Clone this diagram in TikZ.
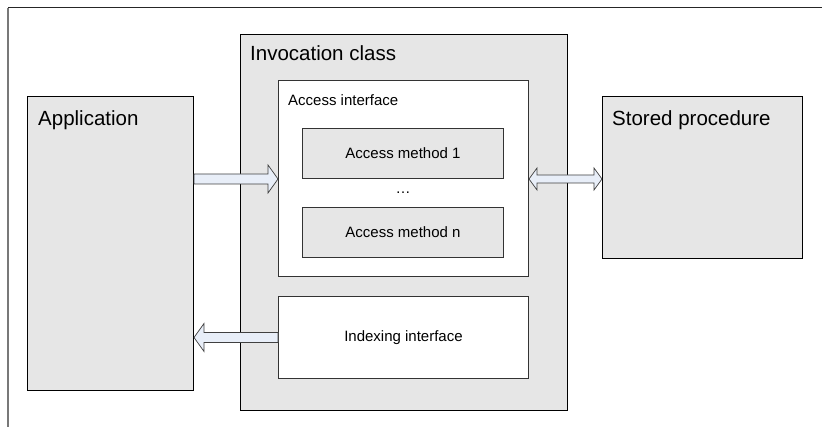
\documentclass[tikz,border=0pt]{standalone}
\usepackage{fontspec}
\setmainfont{Liberation Sans}
\usetikzlibrary{calc}
\definecolor{boxgray}{RGB}{230,230,230}
\definecolor{arrowblue}{RGB}{232,238,248}
\definecolor{framegray}{RGB}{120,120,120}
\begin{document}
\begin{tikzpicture}[x=1pt,y=-1pt,
  graybox/.style={draw=black,line width=1pt,fill=boxgray,inner sep=0,anchor=north west,font=\fontsize{15}{18}\selectfont},
  whitebox/.style={draw=black!80,line width=1pt,fill=white,inner sep=0,anchor=north west,font=\fontsize{15}{18}\selectfont},
  bigtxt/.style={font=\fontsize{20.5}{24}\selectfont,inner sep=0,anchor=base west},
  smalltxt/.style={font=\fontsize{15}{18}\selectfont,inner sep=0,anchor=base west},
  blockarrow/.style={draw=black!75,line width=0.7pt,fill=arrowblue,line join=miter}]
\useasboundingbox (0,0) rectangle (822,427);
\draw[framegray,line width=1.2pt] (8,427) -- (8,8);
\draw[black!85,line width=1pt] (8,8) -- (822,8);
% boxes
\node[graybox,minimum width=166,minimum height=294] (app) at (27,96) {};
\node[graybox,minimum width=327,minimum height=376] (inv) at (240,34) {};
\node[whitebox,minimum width=250,minimum height=196] (acc) at (278,80) {};
\node[graybox,draw=black!80,minimum width=201,minimum height=50] (m1) at (302,128) {Access method 1};
\node[graybox,draw=black!80,minimum width=201,minimum height=50] (mn) at (302,207) {Access method n};
\node[font=\fontsize{15}{18}\selectfont,inner sep=0] (dots) at ($(m1.south)!0.5!(mn.north)$) {\ldots};
\node[whitebox,minimum width=250,minimum height=82] (idx) at (278,296) {Indexing interface};
\node[graybox,minimum width=200,minimum height=162] (sp) at (602,96) {};
% labels
\node[bigtxt] (applbl) at ($(app.north west)+(11,30)$) {Application};
\node[bigtxt] (invlbl) at ($(inv.north west)+(10,27)$) {Invocation class};
\node[smalltxt] (acclbl) at ($(acc.north west)+(10,26)$) {Access interface};
\node[bigtxt] (splbl) at ($(sp.north west)+(10,30)$) {Stored procedure};
% arrows
\coordinate (r1s) at (app.east |- m1.south);
\coordinate (r1e) at (acc.west |- m1.south);
\draw[blockarrow] ($(r1s)+(0,-5)$) -- ($(r1e)+(-10,-5)$) -- ($(r1e)+(-10,-14)$) -- (r1e)
  -- ($(r1e)+(-10,14)$) -- ($(r1e)+(-10,5)$) -- ($(r1s)+(0,5)$) -- cycle;
\coordinate (d1s) at (acc.east |- m1.south);
\coordinate (d1e) at (sp.west |- m1.south);
\draw[blockarrow] (d1s) -- ($(d1s)+(8,-11)$) -- ($(d1s)+(8,-4)$) -- ($(d1e)+(-8,-4)$) -- ($(d1e)+(-8,-11)$)
  -- (d1e) -- ($(d1e)+(-8,11)$) -- ($(d1e)+(-8,4)$) -- ($(d1s)+(8,4)$) -- ($(d1s)+(8,11)$) -- cycle;
\coordinate (l1s) at (idx.west);
\coordinate (l1e) at (app.east |- idx.west);
\draw[blockarrow] ($(l1s)+(0,-5)$) -- ($(l1e)+(10,-5)$) -- ($(l1e)+(10,-14)$) -- (l1e)
  -- ($(l1e)+(10,14)$) -- ($(l1e)+(10,5)$) -- ($(l1s)+(0,5)$) -- cycle;
\end{tikzpicture}
\end{document}
